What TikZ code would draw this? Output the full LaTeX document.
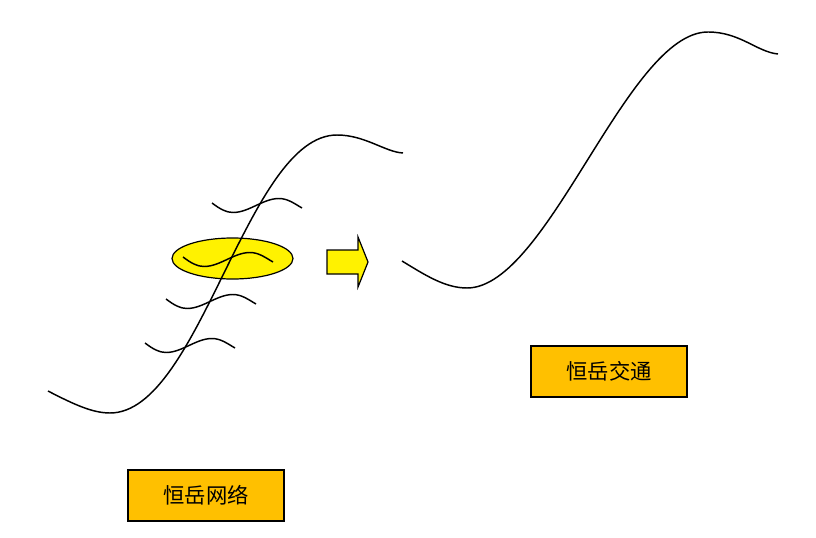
\documentclass[tikz,border=0pt]{standalone}
\usepackage{fontspec}
\newfontfamily\cjk{Noto Sans CJK SC}
\definecolor{labelgold}{HTML}{FFC000}
\tikzset{
  curve/.style={line width=1.1pt, black},
  labelbox/.style={draw=black, line width=1.5pt, fill=labelgold,
    minimum width=156*0.75pt, minimum height=51*0.75pt,
    font=\cjk\fontsize{16}{19}\selectfont},
  wave/.pic={
    \draw[curve] (0,0) .. controls (8,6) and (14,9.5) .. (21,9.5)
        .. controls (37,9.5) and (51,-4.5) .. (67,-4.5)
        .. controls (76,-4.5) and (83,1) .. (90,5);
  },
}
\begin{document}
\begin{tikzpicture}[x=0.75pt, y=-0.75pt]
    \useasboundingbox (0,0) rectangle (816,538);

    % The yellow ellipse (drawn first, curves pass over it)
    \draw[line width=0.9pt, fill=yellow] (232.5,258.5) ellipse (60.5 and 20.5);

    % Left big curve
    \draw[curve] (48,391) .. controls (75,405) and (93,413) .. (110,413)
        .. controls (200,413) and (247,135) .. (337,135)
        .. controls (365,135) and (385,152) .. (403,153);

    % Small waves crossing it
    \pic at (212,203) {wave};
    \pic at (183,257) {wave};
    \pic at (166,299) {wave};
    \pic at (145,343) {wave};

    % Block arrow
    \draw[line width=0.9pt, fill=yellow]
        (327,250) -- (358,250) -- (358,237) -- (368,262) -- (358,287) -- (358,274) -- (327,274) -- cycle;

    % Right big curve
    \draw[curve] (402,261) .. controls (425,275) and (445,288) .. (467,288)
        .. controls (548,288) and (627,32) .. (708,32)
        .. controls (740,32) and (757,52) .. (778,54);

    % Labels
    \node[labelbox] (net) at (206,495) {恒岳网络};
    \node[labelbox] (traffic) at (609,371.5) {恒岳交通};
\end{tikzpicture}
\end{document}
